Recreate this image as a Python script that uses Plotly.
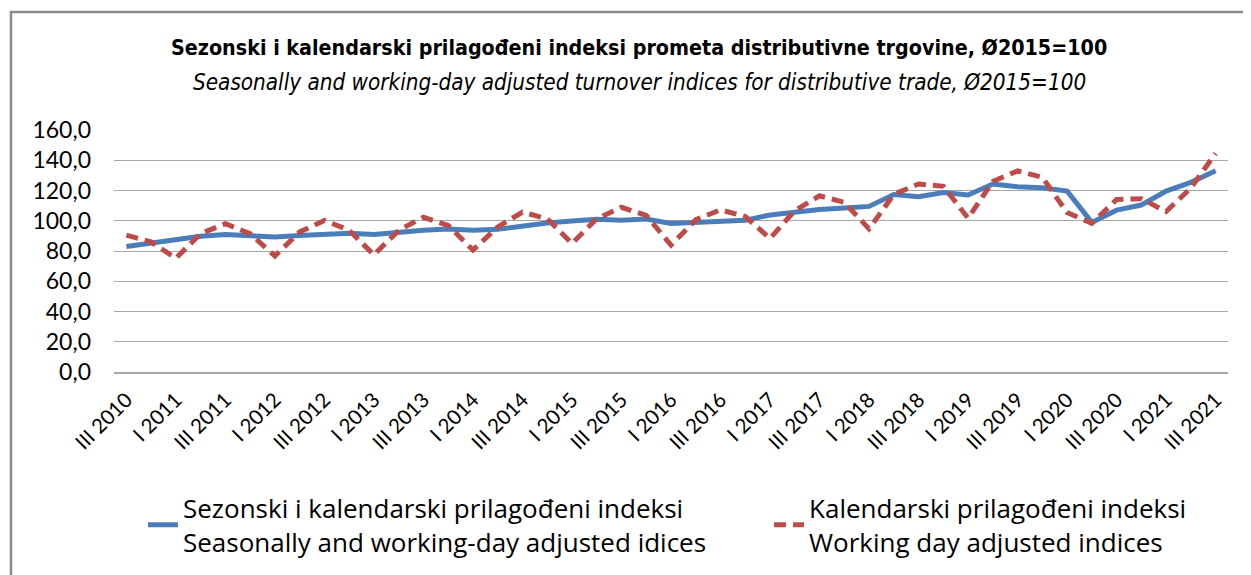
import plotly.graph_objects as go

roman = ["I", "II", "III", "IV"]
quarters = ([f"{roman[q]} 2010" for q in (2, 3)]
            + [f"{roman[q]} {y}" for y in range(2011, 2021) for q in range(4)]
            + [f"{roman[q]} 2021" for q in range(3)])

seasonal_adj = [83.0, 85.0, 87.6, 89.8, 90.9, 90.4, 89.3, 90.2, 90.9, 91.7,
                90.9, 92.4, 93.7, 94.5, 93.7, 94.3, 96.5, 98.5, 99.8, 101.0,
                100.4, 101.2, 98.2, 98.8, 99.0, 100.4, 103.8, 106.0, 107.5, 108.5,
                109.5, 117.4, 115.9, 118.6, 117.0, 124.3, 122.5, 121.8, 119.6, 98.9,
                107.0, 110.4, 119.6, 125.4, 133.0]

working_day_adj = [90.5, 86.0, 75.2, 91.5, 98.0, 91.5, 76.7, 92.6, 100.2, 93.7,
                   77.4, 93.7, 102.3, 96.9, 80.6, 95.9, 105.7, 101.3, 85.0, 101.3,
                   108.9, 103.5, 83.9, 100.7, 107.2, 102.8, 88.3, 106.7, 116.5, 112.2,
                   94.6, 117.4, 124.3, 122.8, 101.7, 126.0, 133.0, 128.7, 105.4, 98.3,
                   114.1, 114.6, 106.1, 121.7, 144.5]

name_blue = "Sezonski i kalendarski prilagođeni indeksi<br>Seasonally and working-day adjusted idices"
name_red = "Kalendarski prilagođeni indeksi<br>Working day adjusted indices"

title_main = "Sezonski i kalendarski prilagođeni indeksi prometa distributivne trgovine, Ø2015=100"
title_sub = "Seasonally and working-day adjusted turnover indices for distributive trade, Ø2015=100"

y_ticks = [0, 20, 40, 60, 80, 100, 120, 140, 160]
x_ticks = quarters[::2]

narrow = "Liberation Sans Narrow, Arial Narrow, DejaVu Sans Condensed, sans-serif"
legfont = "Open Sans, Arial, sans-serif"
tickfont = "Lato, Calibri, sans-serif"

fig = go.Figure()
fig.add_trace(go.Scatter(x=quarters, y=seasonal_adj, mode="lines", name=name_blue,
                         line=dict(color="#4A7EBB", width=5), legend="legend"))
fig.add_trace(go.Scatter(x=quarters, y=working_day_adj, mode="lines", name=name_red,
                         line=dict(color="#BE4B48", width=5, dash="12px,7px"),
                         legend="legend2"))

leg_common = dict(orientation="v", yanchor="top", xanchor="left",
                  font=dict(family=legfont, size=26, color="#000000"),
                  bgcolor="rgba(0,0,0,0)", borderwidth=0, itemwidth=30,
                  tracegroupgap=0)

fig.update_layout(
    width=1251, height=575,
    margin=dict(l=106, r=31, t=122, b=211, autoexpand=False),
    paper_bgcolor="white", plot_bgcolor="white",
    separators=", ",
    showlegend=True,
    legend=dict(x=0.026, y=-0.465, **leg_common),
    legend2=dict(x=0.588, y=-0.465, **leg_common),
    xaxis=dict(type="category", range=[-0.5, len(quarters) - 0.5],
               tickmode="array", tickvals=x_ticks, ticktext=x_ticks,
               tickangle=-45, tickfont=dict(family=tickfont, size=20.5, color="#000000"),
               ticklabelstandoff=6,
               showgrid=False, showline=True, linecolor="#A6A6A6", linewidth=1.5,
               ticks="", zeroline=False),
    yaxis=dict(range=[0, 160], tickmode="array", tickvals=y_ticks, tickformat=".1f",
               tickfont=dict(family=tickfont, size=23, color="#000000"),
               ticklabelstandoff=22,
               showgrid=True, gridcolor="#A6A6A6", gridwidth=1.2,
               showline=False, zeroline=False, ticks=""),
    annotations=[
        dict(text="<b>" + title_main + "</b>", xref="paper", yref="paper",
             x=0.4713, y=1.339, xanchor="center", yanchor="middle", showarrow=False,
             font=dict(family=narrow, size=21.3, color="#000000")),
        dict(text="<i>" + title_sub + "</i>", xref="paper", yref="paper",
             x=0.4713, y=1.198, xanchor="center", yanchor="middle", showarrow=False,
             font=dict(family=narrow, size=22.3, color="#000000")),
    ],
    shapes=[dict(type="rect", xref="paper", yref="paper",
                 x0=-0.0925, x1=1.2, y0=-1.5, y1=1.4876,
                 line=dict(color="#8C8C8C", width=2.5), fillcolor="rgba(0,0,0,0)",
                 layer="below")],
)

fig.write_html("out.html")
